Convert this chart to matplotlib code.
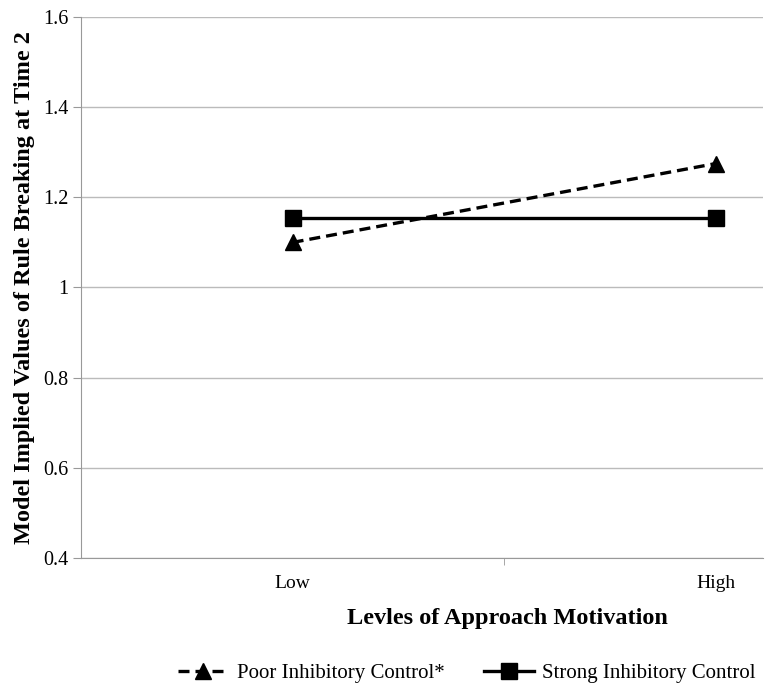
import matplotlib.pyplot as plt

# data
categories = ['Low', 'High']
poor = [1.10, 1.275]
strong = [1.155, 1.155]
y_ticks = [0.4, 0.6, 0.8, 1.0, 1.2, 1.4, 1.6]
y_labels = ['0.4', '0.6', '0.8', '1', '1.2', '1.4', '1.6']

plt.rcParams['font.family'] = ['Liberation Serif', 'DejaVu Serif']

fig = plt.figure(figsize=(7.72, 6.91), dpi=100)
ax = fig.add_axes([0.1049, 0.1925, 0.8834, 0.7829])

x = list(range(len(categories)))
ax.plot(x, poor, color='black', linestyle=(0, (3.3, 1.8)), linewidth=2.4,
        marker='^', markersize=11, label='Poor Inhibitory Control*')
ax.plot(x, strong, color='black', linestyle='-', linewidth=2.4,
        marker='s', markersize=11, label='Strong Inhibitory Control')

ax.set_ylim(0.4, 1.6)
ax.set_xlim(-0.5, 1.111)
ax.set_yticks(y_ticks)
ax.set_yticklabels(y_labels, fontsize=14.5)
ax.set_xticks(x)
ax.set_xticklabels(categories, fontsize=14)
ax.tick_params(axis='x', length=0, pad=12)
ax.set_xticks([0.5], minor=True)
ax.tick_params(axis='x', which='minor', length=5, color='#999999', direction='out')
ax.tick_params(axis='y', length=6, color='#999999', direction='out', pad=3)

ax.grid(axis='y', color='#bbbbbb', linewidth=1)
ax.set_axisbelow(True)
for s in ['top', 'right']:
    ax.spines[s].set_visible(False)
ax.spines['left'].set_color('#999999')
ax.spines['bottom'].set_color('#999999')

ax.set_ylabel('Model Implied Values of Rule Breaking at Time 2',
              fontsize=17.5, fontweight='bold', labelpad=6)
ax.set_xlabel('Levles of Approach Motivation', fontsize=17.5,
              fontweight='bold', labelpad=10)
# the axis title sits under the middle of the full category span
ax.xaxis.set_label_coords(0.625, -0.092)

fig.legend(loc='center', bbox_to_anchor=(0.605, 0.026), ncol=2, frameon=False,
           fontsize=15, handlelength=2.4, columnspacing=1.9, handletextpad=0.4,
           borderaxespad=0)

fig.savefig('out.png', dpi=100)
